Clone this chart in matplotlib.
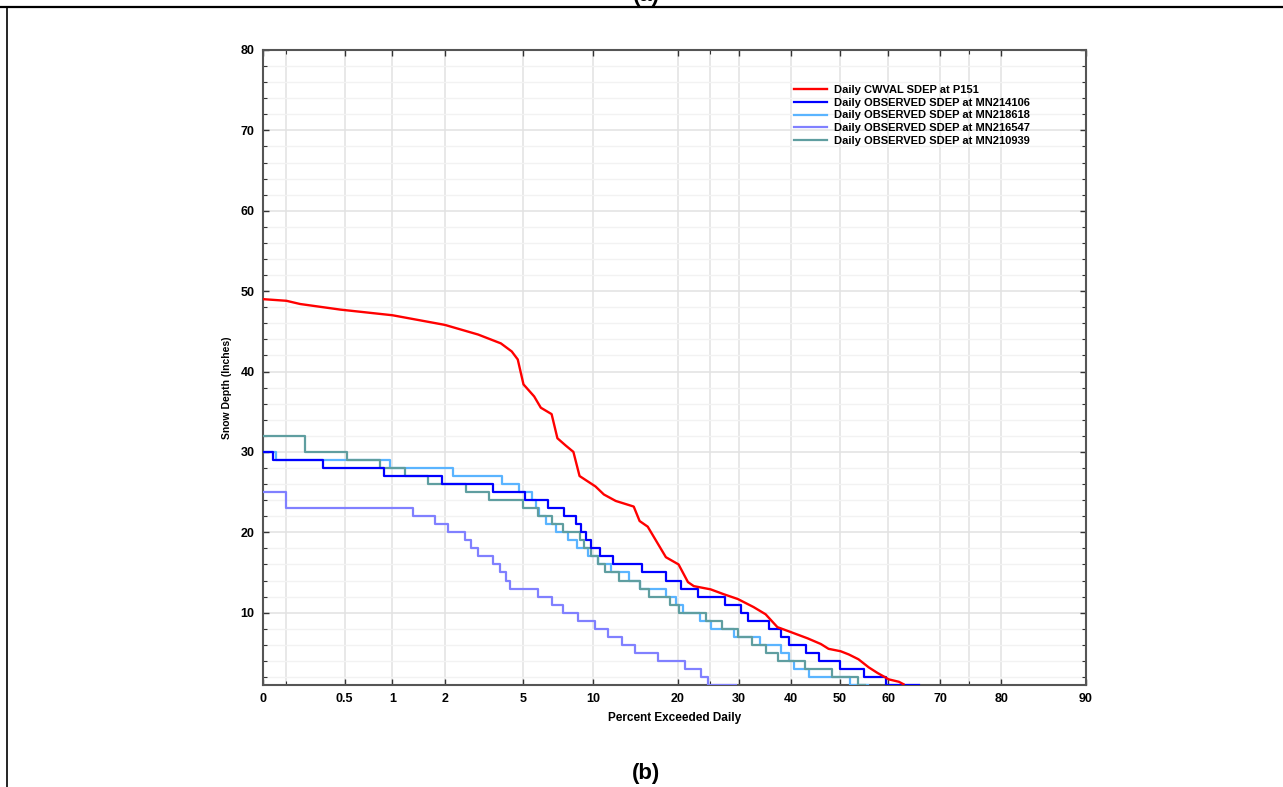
import matplotlib
matplotlib.use("Agg")
import matplotlib.pyplot as plt
from matplotlib.lines import Line2D
from matplotlib.ticker import FixedLocator, FixedFormatter, MultipleLocator
import numpy as np
from statistics import NormalDist

plt.rcParams['font.family'] = ['Liberation Sans', 'DejaVu Sans']

# Percent exceeded (x) and snow depth in inches (y)
red_pct = [0.136, 0.2, 0.25, 0.47, 1.0, 2.0, 3.0, 3.9, 4.4, 4.7, 5.0, 5.6, 6.0, 6.7,
           7.1, 7.7, 8.3, 8.8, 10.2, 11.0, 12.2, 14.2, 14.9, 15.9, 18.3, 20.1, 21.5,
           22.4, 25.1, 27.3, 29.8, 32.7, 35.0, 37.3, 39.9, 43.4, 46.1, 47.7, 50.2,
           51.9, 53.9, 56.0, 57.8, 60.1, 62.1, 63.0]
red_depth = [49.0, 48.8, 48.4, 47.7, 47.0, 45.8, 44.6, 43.5, 42.5, 41.5, 38.4, 36.9,
             35.5, 34.7, 31.7, 30.8, 30.0, 27.0, 25.7, 24.7, 23.9, 23.2, 21.4, 20.7,
             16.9, 16.0, 13.8, 13.3, 12.9, 12.3, 11.7, 10.7, 9.8, 8.2, 7.6, 6.8, 6.1,
             5.5, 5.2, 4.8, 4.2, 3.2, 2.5, 1.7, 1.4, 1.1]

blue_pct = [0.136, 0.16, 0.36, 0.89, 1.94, 3.58, 5.1, 6.43, 7.61, 8.47, 8.88, 9.31,
            9.8, 10.6, 11.9, 15.2, 18.3, 20.5, 23.0, 27.6, 30.3, 31.6, 35.6, 38.1,
            39.7, 43.0, 45.7, 50.0, 55.0, 59.5, 66.0]
blue_depth = list(range(30, 0, -1)) + [1]

lblue_pct = [0.136, 0.169, 0.97, 2.2, 3.97, 4.74, 5.5, 5.7, 5.9, 6.3, 6.97, 7.91, 8.55,
             9.56, 10.4, 11.7, 13.6, 15.0, 18.25, 19.7, 20.7, 23.3, 25.1, 29.2, 34.0,
             38.1, 39.7, 40.6, 43.6, 52.1, 55.8]
lblue_depth = list(range(30, 0, -1)) + [1]

purple_pct = [0.136, 0.2, 1.33, 1.77, 2.09, 2.55, 2.74, 3.01, 3.58, 3.88, 4.15, 4.34,
              5.8, 6.76, 7.47, 8.71, 10.2, 11.4, 12.9, 14.4, 17.2, 21.1, 23.5, 24.6, 29.4]
purple_depth = [25] + list(range(23, 0, -1)) + [1]

teal_pct = [0.136, 0.27, 0.52, 0.84, 1.19, 1.62, 2.58, 3.39, 5.0, 5.8, 6.7, 7.5, 8.8,
            9.2, 9.8, 10.4, 11.1, 12.5, 15.0, 16.0, 18.9, 20.1, 24.4, 27.0, 29.8, 32.5,
            35.0, 37.5, 42.8, 48.5, 53.9, 55.2]
teal_depth = [32] + list(range(30, 0, -1)) + [1]

labels = ["Daily CWVAL SDEP at P151",
          "Daily OBSERVED SDEP at MN214106",
          "Daily OBSERVED SDEP at MN218618",
          "Daily OBSERVED SDEP at MN216547",
          "Daily OBSERVED SDEP at MN210939"]
colors = ["#ff0000", "#0000ff", "#5ab4ff", "#8080ff", "#5f9ea0"]

major_ticks = [0.135, 0.5, 1, 2, 5, 10, 20, 30, 40, 50, 60, 70, 80, 90]
major_labels = ["0", "0.5", "1", "2", "5", "10", "20", "30", "40", "50", "60", "70", "80", "90"]
minor_ticks = [0.2, 25, 75]

# normal probability scale for the x axis
_nd = NormalDist()
_ppf = np.vectorize(_nd.inv_cdf, otypes=[float])
_cdf = np.vectorize(_nd.cdf, otypes=[float])


def fwd(p):
    p = np.clip(np.asarray(p, dtype=float) / 100.0, 1e-9, 1 - 1e-9)
    return _ppf(p)


def inv(z):
    return _cdf(np.asarray(z, dtype=float)) * 100.0


fig = plt.figure(figsize=(12.83, 7.87), dpi=100)
ax = fig.add_axes([263 / 1283, 102 / 787, 823 / 1283, 635 / 787])
ax.set_xscale('function', functions=(fwd, inv))

ax.plot(red_pct, red_depth, color=colors[0], lw=1.7, label=labels[0], zorder=5)
ax.plot(blue_pct, blue_depth, color=colors[1], lw=1.6, drawstyle='steps-post', label=labels[1], zorder=4)
ax.plot(lblue_pct, lblue_depth, color=colors[2], lw=1.6, drawstyle='steps-post', label=labels[2], zorder=3)
ax.plot(purple_pct, purple_depth, color=colors[3], lw=1.6, drawstyle='steps-post', label=labels[3], zorder=3)
ax.plot(teal_pct, teal_depth, color=colors[4], lw=1.6, drawstyle='steps-post', label=labels[4], zorder=3)

ax.set_xlim(0.135, 90)
ax.set_ylim(1, 80)

ax.xaxis.set_major_locator(FixedLocator(major_ticks))
ax.xaxis.set_major_formatter(FixedFormatter(major_labels))
ax.xaxis.set_minor_locator(FixedLocator(minor_ticks))
ax.yaxis.set_major_locator(FixedLocator([10, 20, 30, 40, 50, 60, 70, 80]))
ax.yaxis.set_minor_locator(MultipleLocator(2))

ax.tick_params(which='both', direction='in', top=True, right=True, color='#333333')
ax.tick_params(which='major', length=4, width=1, pad=6)
ax.tick_params(which='minor', length=3, width=0.8)
for lab in ax.get_xticklabels() + ax.get_yticklabels():
    lab.set_fontsize(9)
    lab.set_fontweight('bold')

ax.grid(True, which='major', color='#e2e2e2', lw=1.1)
ax.grid(True, which='minor', axis='y', color='#f2f2f2', lw=1.0)
ax.grid(True, which='minor', axis='x', color='#e2e2e2', lw=1.1)
ax.set_axisbelow(True)
for s in ax.spines.values():
    s.set_color('#555555')
    s.set_linewidth(1.5)

ax.set_xlabel("Percent Exceeded Daily", fontsize=8.5, fontweight='bold')
ax.xaxis.set_label_coords((675 - 263) / 823, -(712 - 685) / 635)
ax.set_ylabel("Snow Depth (Inches)", fontsize=7.5, fontweight='bold')
ax.yaxis.set_label_coords((232 - 263) / 823, (685 - 388) / 635)

ax.legend(loc='upper left', bbox_to_anchor=(0.64, 0.952), frameon=False,
          prop={'size': 8, 'weight': 'bold'}, handlelength=3.0,
          labelspacing=0.25, handletextpad=0.6, borderaxespad=0)

fig.text(646 / 1283, 1 - 773 / 787, "(b)", ha='center', va='center',
         fontsize=16, fontweight='bold')
fig.text(646 / 1283, 1 - 0.5 / 787, "(a)", ha='center', va='baseline',
         fontsize=16, fontweight='bold')

fig.add_artist(Line2D([0, 1], [1 - 6.5 / 787] * 2, color='black', lw=1.6,
                      transform=fig.transFigure))
fig.add_artist(Line2D([7 / 1283] * 2, [0, 1 - 6.5 / 787], color='black', lw=1.2,
                      transform=fig.transFigure))

fig.savefig("out.png", dpi=100)
